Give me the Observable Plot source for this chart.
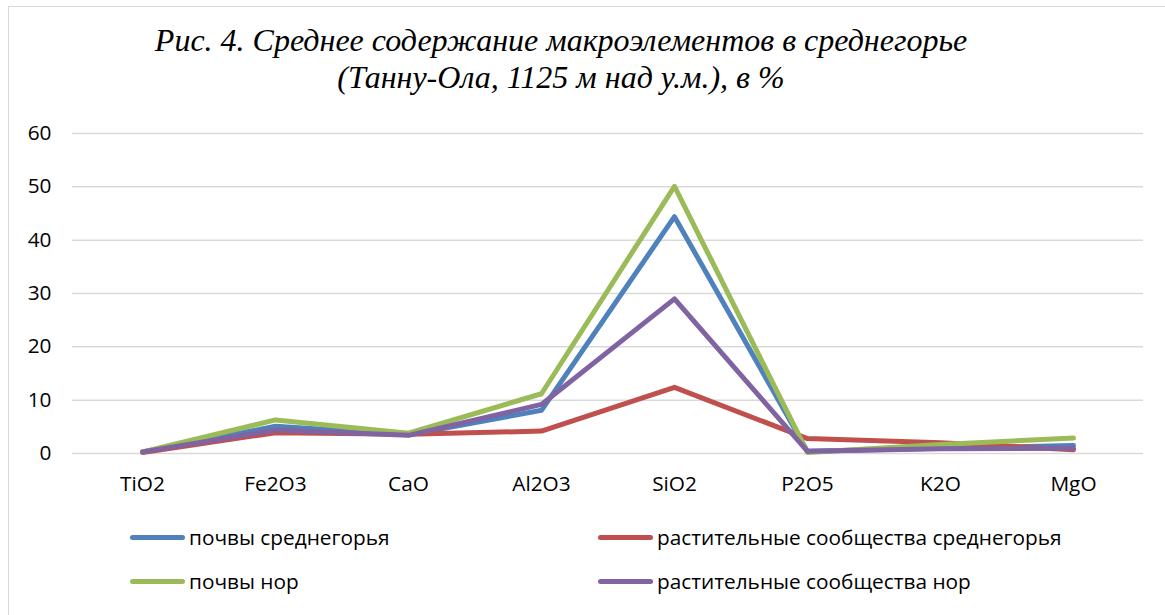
<!DOCTYPE html>
<html>
<head>
<meta charset="utf-8">
<script src="https://cdn.jsdelivr.net/npm/d3@7"></script>
<script src="https://cdn.jsdelivr.net/npm/@observablehq/plot@0.6"></script>
<style>
  html, body { margin: 0; padding: 0; background: #fff; }
  body { width: 1165px; height: 615px; position: relative; overflow: hidden; font-family: "Open Sans", "Liberation Sans", sans-serif; }
  #frame { position: absolute; left: 8px; top: 6px; width: 1200px; height: 700px; border-left: 1.5px solid #d9d9d9; border-top: 1.5px solid #d9d9d9; }
  #title { position: absolute; left: 0; top: 22px; width: 1122px; text-align: center; font-family: "Liberation Serif", "Times New Roman", serif; font-style: italic; font-size: 32px; line-height: 37px; color: #000; }
  #chart { position: absolute; left: 0; top: 110px; }
  .leg { position: absolute; display: flex; align-items: center; font-size: 20.8px; color: #000; white-space: nowrap; }
  .leg .sw { width: 55px; height: 5px; border-radius: 3px; margin-right: 4px; }
</style>
</head>
<body>
<div id="frame"></div>
<div id="title">Рис. 4. Среднее содержание макроэлементов в среднегорье<br>(Танну-Ола, 1125 м над у.м.), в %</div>
<div id="chart"></div>
<div id="legend"></div>
<script>
const categories = ["TiO2", "Fe2O3", "CaO", "Al2O3", "SiO2", "P2O5", "K2O", "MgO"];
const seriesNames = ["почвы среднегорья", "растительные сообщества среднегорья", "почвы нор", "растительные сообщества нор"];
const seriesColors = ["#4F81BD", "#C0504D", "#9BBB59", "#8064A2"];
const soilsMid   = [0.3, 5.1, 3.5, 8.1, 44.4, 0.4, 1.0, 1.5];
const plantsMid  = [0.2, 3.9, 3.6, 4.2, 12.4, 2.8, 2.0, 0.7];
const soilsNor   = [0.3, 6.3, 3.8, 11.2, 50.1, 0.2, 1.7, 2.9];
const plantsNor  = [0.3, 4.4, 3.4, 9.2, 29.0, 0.4, 0.9, 1.0];
const yTicks = [0, 10, 20, 30, 40, 50, 60];

const allSeries = [soilsMid, plantsMid, soilsNor, plantsNor];
const rows = [];
allSeries.forEach((vals, i) => {
  vals.forEach((v, j) => rows.push({series: seriesNames[i], cat: categories[j], value: v}));
});

const chart = Plot.plot({
  width: 1165,
  height: 395,
  marginLeft: 72,
  marginRight: 22,
  marginTop: 23,
  marginBottom: 52,
  style: {fontFamily: "'Open Sans', 'Liberation Sans', sans-serif", fontSize: "20.8px", color: "#000", background: "transparent"},
  x: {type: "point", domain: categories, padding: 0.5, label: null},
  y: {domain: [0, 60], label: null},
  color: {domain: seriesNames, range: seriesColors},
  marks: [
    Plot.gridY(yTicks, {stroke: "#d9d9d9", strokeOpacity: 1, strokeWidth: 1.5}),
    Plot.axisY(yTicks, {tickSize: 0, tickPadding: 21, label: null, fontSize: 20.8}),
    Plot.axisX({tickSize: 0, tickPadding: 23, label: null, fontSize: 20.8}),
    Plot.line(rows, {x: "cat", y: "value", z: "series", stroke: "series", strokeWidth: 5, strokeLinejoin: "round", strokeLinecap: "round"})
  ]
});
document.getElementById("chart").appendChild(chart);

const legendPos = [[130, 537], [598, 537], [130, 581], [598, 581]];
const legend = document.getElementById("legend");
seriesNames.forEach((name, i) => {
  const d = document.createElement("div");
  d.className = "leg";
  d.style.left = legendPos[i][0] + "px";
  d.style.top = (legendPos[i][1] - 14) + "px";
  d.style.height = "28px";
  d.innerHTML = `<div class="sw" style="background:${seriesColors[i]}"></div><span>${name}</span>`;
  legend.appendChild(d);
});
</script>
</body>
</html>
